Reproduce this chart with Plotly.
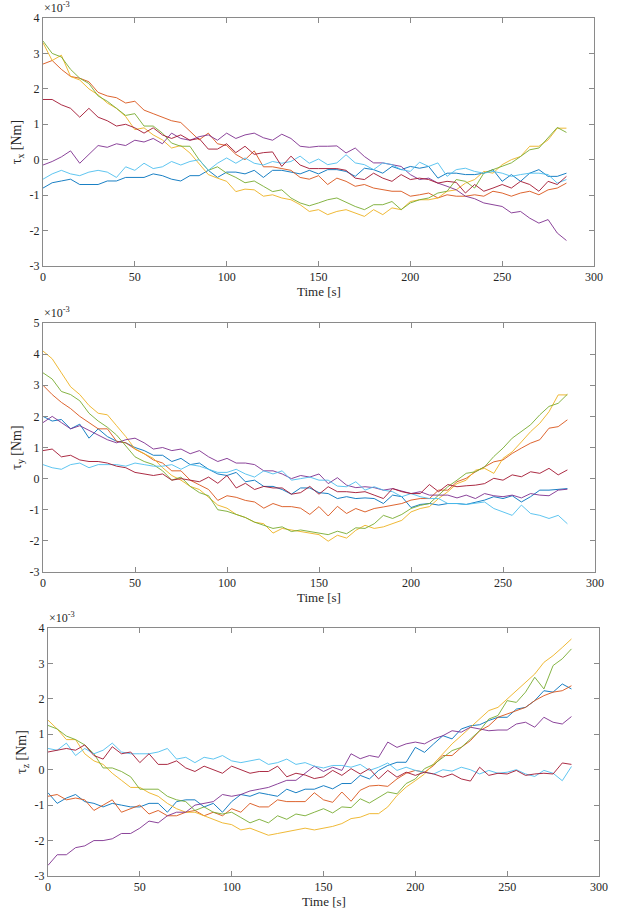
import plotly.graph_objects as go

time_s = [0, 5, 10, 15, 20, 25, 30, 35, 40, 45, 50, 55, 60, 65, 70, 75, 80, 85, 90, 95,
          100, 105, 110, 115, 120, 125, 130, 135, 140, 145, 150, 155, 160, 165, 170, 175,
          180, 185, 190, 195, 200, 205, 210, 215, 220, 225, 230, 235, 240, 245, 250, 255,
          260, 265, 270, 275, 280, 285]

# torque values in units of 1e-3 Nm
# ---- tau_x ----
tx_blue = [-0.8, -0.65, -0.6, -0.55, -0.7, -0.7, -0.7, -0.6, -0.6, -0.5,
           -0.5, -0.5, -0.4, -0.45, -0.55, -0.6, -0.45, -0.45, -0.3, -0.5,
           -0.35, -0.35, -0.4, -0.3, -0.5, -0.3, -0.3, -0.35, -0.4, -0.3, -0.4,
           -0.28, -0.28, -0.33, -0.47, -0.24, -0.28, -0.38, -0.19, -0.28, -0.19,
           -0.24, -0.19, -0.52, -0.38, -0.38, -0.42, -0.42, -0.38, -0.28, -0.61,
           -0.42, -0.61, -0.38, -0.28, -0.47, -0.47, -0.38]
tx_orange = [2.7, 2.8, 2.55, 2.35, 2.3, 2.2, 1.9, 1.8, 1.75, 1.6,
             1.65, 1.4, 1.3, 1.2, 1.1, 1.05, 0.8, 0.56, 0.75, 0.45,
             0.4, 0.15, 0.0, 0.25, -0.2, -0.2, -0.25, -0.3, -0.5, -0.55, -0.45,
             -0.7, -0.52, -0.61, -0.75, -0.7, -0.8, -0.85, -0.89, -0.89, -1.03,
             -0.99, -0.94, -1.08, -0.99, -1.03, -1.03, -0.99, -1.03, -0.89, -0.94,
             -1.03, -0.94, -0.89, -0.99, -0.85, -0.8, -0.66]
tx_yellow = [3.3, 2.8, 2.95, 2.35, 2.25, 2.0, 1.83, 1.6, 1.45, 1.22,
             0.85, 0.9, 0.7, 0.56, 0.33, 0.4, 0.19, -0.1, -0.42, -0.52,
             -0.61, -0.9, -0.83, -0.85, -1.03, -0.99, -1.08, -1.13, -1.27, -1.46, -1.41,
             -1.55, -1.46, -1.41, -1.5, -1.6, -1.41, -1.55, -1.36, -1.41, -1.18,
             -1.13, -1.13, -1.08, -0.89, -0.85, -0.66, -0.56, -0.33, -0.38, -0.14,
             0.0, 0.09, 0.38, 0.38, 0.56, 0.89, 0.89]
tx_purple = [-0.15, -0.05, 0.08, 0.25, -0.1, 0.15, 0.4, 0.35, 0.45, 0.4,
             0.55, 0.5, 0.6, 0.45, 0.75, 0.6, 0.55, 0.65, 0.7, 0.55,
             0.75, 0.6, 0.7, 0.75, 0.62, 0.55, 0.72, 0.6, 0.38, 0.35, 0.38,
             0.38, 0.39, 0.19, 0.33, 0.09, -0.09, -0.09, -0.14, -0.19, -0.42,
             -0.56, -0.52, -0.66, -0.75, -0.85, -1.03, -1.1, -1.22, -1.27, -1.32,
             -1.5, -1.46, -1.65, -1.79, -1.69, -2.07, -2.28]
tx_green = [3.35, 3.0, 2.9, 2.55, 2.3, 2.15, 1.8, 1.65, 1.45, 1.25,
            1.3, 0.95, 0.95, 0.75, 0.47, 0.38, 0.38, 0.0, -0.3, -0.2,
            -0.38, -0.5, -0.65, -0.6, -0.75, -0.9, -0.85, -1.08, -1.22, -1.3, -1.22,
            -1.13, -1.08, -1.2, -1.32, -1.41, -1.27, -1.27, -1.18, -1.41, -1.22,
            -1.13, -1.08, -0.94, -0.89, -0.56, -0.61, -0.8, -0.38, -0.28, -0.19,
            -0.09, 0.09, 0.28, 0.33, 0.61, 0.91, 0.77]
tx_lightblue = [-0.55, -0.4, -0.3, -0.4, -0.45, -0.35, -0.3, -0.35, -0.5, -0.2,
                -0.3, -0.1, -0.25, -0.2, -0.05, -0.15, -0.05, 0.0, -0.3, -0.1,
                0.05, -0.1, 0.05, -0.1, -0.15, -0.05, -0.1, -0.05, 0.1, -0.1, 0.02,
                -0.14, -0.09, 0.14, -0.09, -0.14, -0.28, -0.09, -0.14, -0.28, -0.33,
                -0.07, -0.19, -0.09, -0.47, -0.28, -0.24, -0.33, -0.38, -0.33, -0.38,
                -0.47, -0.42, -0.38, -0.38, -0.42, -0.66, -0.56]
tx_darkred = [1.7, 1.7, 1.55, 1.45, 1.2, 1.45, 1.2, 1.1, 0.95, 1.0,
              0.9, 0.75, 0.9, 0.7, 0.6, 0.7, 0.55, 0.6, 0.3, 0.3,
              0.45, 0.2, 0.38, 0.15, 0.2, 0.22, -0.19, 0.1, -0.15, -0.25, -0.25,
              -0.25, -0.25, -0.3, -0.52, -0.56, -0.38, -0.52, -0.61, -0.42, -0.56,
              -0.52, -0.56, -0.66, -0.61, -0.64, -0.94, -0.7, -0.89, -0.8, -0.7,
              -0.8, -0.61, -0.7, -0.89, -0.61, -0.7, -0.47]

# ---- tau_y ----
ty_blue = [2.0, 1.85, 1.9, 1.6, 1.75, 1.3, 1.6, 1.35, 1.2, 1.15,
           1.0, 0.9, 0.75, 0.75, 0.55, 0.65, 0.45, 0.5, 0.3, 0.15,
           0.1, 0.2, -0.1, -0.05, -0.25, -0.25, -0.35, -0.5, -0.3, -0.3, -0.45,
           -0.48, -0.64, -0.58, -0.64, -0.62, -0.64, -0.8, -0.53, -0.58, -0.93,
           -0.83, -0.8, -0.85, -0.8, -0.8, -0.83, -0.75, -0.69, -0.58, -0.64,
           -0.55, -0.75, -0.58, -0.37, -0.37, -0.34, -0.32]
ty_orange = [3.0, 2.7, 2.45, 2.25, 2.0, 1.8, 1.6, 1.6, 1.2, 1.15,
             0.95, 0.8, 0.6, 0.5, 0.25, 0.25, -0.05, -0.2, -0.35, -0.7,
             -0.55, -0.6, -0.7, -0.75, -0.95, -0.8, -0.9, -0.9, -0.95, -1.15, -0.9,
             -1.2, -0.89, -1.12, -0.96, -1.07, -0.96, -0.91, -0.85, -0.8, -0.69,
             -0.64, -0.64, -0.37, -0.37, -0.1, 0.01, 0.22, 0.38, 0.54, 0.6,
             0.81, 0.98, 1.14, 1.25, 1.62, 1.67, 1.89]
ty_yellow = [4.1, 3.85, 3.4, 2.95, 2.7, 2.35, 2.1, 2.05, 1.7, 1.35,
             0.95, 0.8, 0.65, 0.35, 0.1, -0.05, -0.25, -0.35, -0.6, -0.85,
             -0.95, -1.15, -1.25, -1.4, -1.45, -1.75, -1.6, -1.65, -1.7, -1.75, -1.8,
             -2.01, -1.82, -1.91, -1.66, -1.5, -1.6, -1.55, -1.45, -1.34, -1.07,
             -0.96, -0.9, -0.64, -0.42, -0.16, -0.05, 0.27, 0.33, 0.17, 0.65,
             0.86, 1.18, 1.51, 1.78, 2.15, 2.69, 2.69]
ty_purple = [1.8, 2.0, 1.8, 1.6, 1.7, 1.55, 1.4, 1.25, 1.15, 1.25,
             1.3, 1.15, 0.95, 1.0, 0.9, 0.95, 0.8, 0.9, 0.7, 0.55,
             0.65, 0.5, 0.5, 0.45, 0.25, 0.25, 0.15, 0.0, 0.1, 0.05, 0.15,
             -0.16, 0.03, -0.21, -0.29, -0.26, -0.29, -0.37, -0.32, -0.4, -0.48,
             -0.42, -0.53, -0.53, -0.53, -0.62, -0.53, -0.64, -0.48, -0.55, -0.58,
             -0.53, -0.62, -0.48, -0.53, -0.55, -0.37, -0.34]
ty_green = [3.4, 3.2, 2.8, 2.7, 2.5, 2.1, 1.85, 1.65, 1.4, 1.05,
            0.7, 0.55, 0.45, 0.25, -0.05, 0.05, -0.25, -0.45, -0.55, -1.0,
            -1.05, -1.15, -1.25, -1.4, -1.5, -1.6, -1.55, -1.7, -1.65, -1.7, -1.75,
            -1.8, -1.69, -1.77, -1.58, -1.6, -1.45, -1.18, -1.28, -1.15, -0.96,
            -0.86, -0.8, -0.53, -0.26, -0.05, 0.17, 0.22, 0.38, 0.71, 0.98,
            1.3, 1.51, 1.73, 2.05, 2.32, 2.42, 2.71]
ty_lightblue = [0.45, 0.35, 0.3, 0.45, 0.5, 0.35, 0.45, 0.45, 0.45, 0.4,
                0.5, 0.45, 0.4, 0.4, 0.45, 0.3, 0.45, 0.4, 0.3, 0.2,
                0.2, 0.3, 0.15, 0.05, 0.25, 0.15, 0.25, -0.05, 0.0, 0.05, -0.05,
                -0.05, -0.24, -0.26, -0.1, -0.37, -0.26, -0.37, -0.42, -0.58, -0.48,
                -0.58, -0.64, -0.64, -0.8, -0.8, -0.83, -0.8, -0.75, -0.96, -1.07,
                -1.18, -0.85, -1.12, -1.18, -1.28, -1.18, -1.45]
ty_darkred = [0.9, 0.95, 0.7, 0.75, 0.6, 0.55, 0.55, 0.5, 0.4, 0.35,
              0.2, 0.15, 0.1, 0.15, -0.05, 0.0, -0.05, -0.1, 0.05, -0.15,
              0.1, -0.3, -0.15, -0.35, -0.25, -0.3, -0.3, -0.5, -0.45, -0.25, -0.5,
              -0.26, -0.42, -0.42, -0.45, -0.42, -0.53, -0.64, -0.32, -0.42, -0.48,
              -0.48, -0.19, -0.42, -0.19, -0.26, -0.23, -0.21, -0.16, 0.01, -0.05,
              0.12, 0.06, 0.22, 0.17, 0.33, 0.12, 0.28]

# ---- tau_z ----
tz_blue = [-0.65, -0.95, -0.8, -0.7, -0.9, -0.95, -1.05, -0.95, -1.0, -1.05,
           -1.05, -0.95, -0.95, -1.2, -0.9, -0.85, -0.85, -1.05, -0.95, -1.2,
           -0.9, -0.7, -0.75, -0.65, -0.7, -0.75, -0.55, -0.65, -0.55, -0.55, -0.45,
           -0.54, -0.39, -0.39, -0.16, -0.26, -0.02, 0.12, 0.21, 0.21, 0.63,
           0.49, 0.73, 0.96, 0.87, 1.15, 1.24, 1.27, 1.39, 1.48, 1.48,
           1.71, 1.76, 1.95, 2.23, 2.19, 2.42, 2.28]
tz_orange = [-0.75, -0.7, -0.85, -0.8, -0.85, -1.15, -1.0, -0.85, -1.2, -1.1,
             -1.0, -1.25, -1.15, -1.3, -1.3, -1.2, -1.15, -1.3, -1.2, -1.3,
             -1.1, -1.2, -0.95, -1.05, -1.05, -0.85, -0.9, -0.9, -0.9, -0.65, -0.85,
             -0.92, -0.63, -0.89, -0.58, -0.46, -0.44, -0.47, -0.26, -0.1, -0.02,
             -0.07, 0.12, 0.4, 0.4, 0.63, 0.82, 1.1, 1.24, 1.48, 1.57,
             1.67, 1.76, 1.95, 2.09, 2.19, 2.23, 2.37]
tz_yellow = [1.4, 1.15, 0.85, 0.85, 0.45, 0.25, 0.15, -0.1, -0.3, -0.5,
             -0.5, -0.65, -0.75, -0.95, -1.1, -1.2, -1.2, -1.3, -1.4, -1.5,
             -1.55, -1.7, -1.65, -1.75, -1.85, -1.8, -1.75, -1.7, -1.65, -1.7, -1.65,
             -1.6, -1.52, -1.38, -1.34, -1.24, -1.24, -1.05, -0.73, -0.49, -0.31,
             -0.12, 0.17, 0.45, 0.73, 0.96, 1.2, 1.43, 1.67, 1.76, 2.0,
             2.23, 2.47, 2.7, 3.03, 3.22, 3.45, 3.69]
tz_purple = [-2.7, -2.4, -2.4, -2.2, -2.15, -2.0, -2.0, -1.95, -1.8, -1.8,
             -1.65, -1.45, -1.5, -1.3, -1.2, -1.2, -1.0, -0.95, -0.9, -0.7,
             -0.75, -0.7, -0.6, -0.55, -0.5, -0.4, -0.3, -0.3, -0.1, 0.1, -0.05,
             0.07, -0.02, 0.45, 0.31, 0.4, 0.35, 0.78, 0.63, 0.73, 0.78,
             0.73, 0.87, 0.96, 1.1, 1.06, 1.2, 1.15, 1.1, 1.12, 1.12,
             1.29, 1.34, 1.2, 1.48, 1.34, 1.29, 1.5]
tz_green = [1.25, 1.15, 0.95, 0.85, 0.7, 0.45, 0.05, 0.05, -0.05, -0.2,
            -0.55, -0.55, -0.55, -0.75, -0.85, -0.9, -1.15, -1.05, -1.2, -1.25,
            -1.2, -1.35, -1.5, -1.4, -1.5, -1.3, -1.4, -1.25, -1.3, -1.2, -1.1,
            -1.22, -1.05, -1.07, -0.82, -0.94, -0.79, -0.63, -0.68, -0.39, -0.26,
            0.03, 0.15, 0.35, 0.54, 0.63, 0.87, 1.1, 1.43, 1.53, 1.95,
            1.9, 2.19, 2.61, 2.28, 2.94, 3.13, 3.41]
tz_lightblue = [0.6, 0.55, 0.75, 0.4, 0.6, 0.45, 0.55, 0.75, 0.5, 0.45,
                0.45, 0.45, 0.5, 0.6, 0.3, 0.35, 0.2, 0.35, 0.3, 0.4,
                0.25, 0.2, 0.25, 0.3, 0.15, 0.2, 0.3, 0.15, 0.2, 0.1, 0.05,
                0.12, 0.12, 0.07, 0.15, -0.02, 0.07, 0.19, -0.02, 0.07, -0.02,
                -0.07, -0.12, 0.0, -0.04, 0.07, 0.0, -0.12, -0.02, -0.1, -0.07,
                0.0, -0.12, -0.19, -0.02, -0.1, -0.31, 0.09]
tz_darkred = [0.5, 0.55, 0.6, 0.55, 0.7, 0.4, 0.3, 0.65, 0.45, 0.5,
              0.2, 0.45, 0.15, 0.15, 0.25, 0.05, -0.05, 0.1, 0.0, -0.1,
              0.1, 0.0, -0.1, -0.05, -0.05, 0.1, -0.2, -0.1, -0.15, -0.25, -0.2,
              -0.02, -0.16, 0.03, -0.12, 0.03, -0.26, -0.02, -0.21, -0.07, -0.16,
              -0.07, -0.12, -0.21, -0.12, -0.26, -0.32, 0.07, -0.16, -0.1, -0.12,
              -0.02, -0.16, -0.12, -0.1, -0.12, 0.19, 0.15]

colors = ["#0072BD", "#D95319", "#EDB120", "#7E2F8E", "#77AC30", "#4DBEEE", "#A2142F"]

panels = [
    [tx_blue, tx_orange, tx_yellow, tx_purple, tx_green, tx_lightblue, tx_darkred],
    [ty_blue, ty_orange, ty_yellow, ty_purple, ty_green, ty_lightblue, ty_darkred],
    [tz_blue, tz_orange, tz_yellow, tz_purple, tz_green, tz_lightblue, tz_darkred],
]
ylabels = ["τ<sub>x</sub> [Nm]", "τ<sub>y</sub> [Nm]", "τ<sub>z</sub> [Nm]"]
yranges = [(-3, 4), (-3, 5), (-3, 4)]
x_ticks = [0, 50, 100, 150, 200, 250, 300]

W, H = 618, 911
# axes boxes in pixels (left, right, top, bottom)
boxes = [(43, 594, 18, 266), (43, 595, 323, 572), (48, 599, 628, 876)]

FONT = "Liberation Serif"
AX = "#8a8a8a"
TXT = "#262626"

fig = go.Figure()
layout = dict(
    width=W, height=H, margin=dict(l=0, r=0, t=0, b=0, autoexpand=False),
    paper_bgcolor="white", plot_bgcolor="white", showlegend=False, hovermode=False,
    font=dict(family=FONT, size=12, color=TXT),
)
annotations = []
for i, series in enumerate(panels):
    n = i + 1
    xa = "x" if n == 1 else f"x{n}"
    ya = "y" if n == 1 else f"y{n}"
    for s, c in zip(series, colors):
        fig.add_trace(go.Scatter(x=time_s, y=s, mode="lines",
                                 line=dict(color=c, width=0.9), xaxis=xa, yaxis=ya,
                                 hoverinfo="skip"))
    l, r, t, b = boxes[i]
    lo, hi = yranges[i]
    yt = list(range(lo, hi + 1))
    common = dict(showline=True, mirror="ticks", linecolor=AX, linewidth=1,
                  ticks="inside", ticklen=5, tickcolor=AX, tickwidth=1,
                  showgrid=False, zeroline=False, automargin=False,
                  tickfont=dict(family=FONT, size=12, color=TXT))
    layout[f"xaxis{'' if n == 1 else n}"] = dict(
        domain=[l / W, r / W], anchor=ya, range=[0, 300],
        tickvals=x_ticks, ticktext=[str(v) for v in x_ticks], **common)
    layout[f"yaxis{'' if n == 1 else n}"] = dict(
        domain=[1 - b / H, 1 - t / H], anchor=xa, range=[lo, hi],
        tickvals=yt, ticktext=[str(v) for v in yt],
        title=dict(text=ylabels[i], font=dict(family=FONT, size=14, color=TXT), standoff=4),
        **common)
    # x-axis title, placed just under the tick labels
    annotations.append(dict(text="Time [s]", xref="paper", yref="paper",
                            x=((l + r) / 2) / W, y=1 - (b + 25) / H,
                            xanchor="center", yanchor="middle", showarrow=False,
                            font=dict(family=FONT, size=13, color=TXT)))
    # exponent label above the top-left corner
    annotations.append(dict(text="×10<sup>-3</sup>", xref="paper", yref="paper",
                            x=(l - 1) / W, y=1 - (t - 1) / H, xanchor="left", yanchor="bottom",
                            showarrow=False, font=dict(family=FONT, size=12, color=TXT)))
layout["annotations"] = annotations
fig.update_layout(**layout)
fig.write_html("out.html", config={"displayModeBar": False, "staticPlot": True},
               post_script="document.body.style.margin='0px';")
